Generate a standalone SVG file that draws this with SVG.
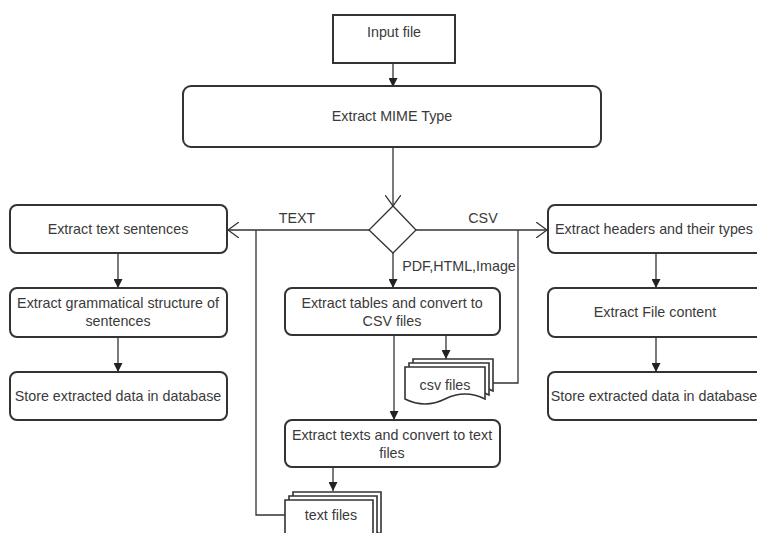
<svg xmlns="http://www.w3.org/2000/svg" width="757" height="533" viewBox="0 0 757 533">
<defs>
<style>
.box{fill:#fff;stroke:#333;stroke-width:2}
.doc{fill:#fff;stroke:#333;stroke-width:1.6}
.c{fill:none;stroke:#333;stroke-width:1.3}
text{font-family:"Liberation Sans",Arial,sans-serif;font-size:14.3px;fill:#3a3a3a;text-anchor:middle}
</style>
<marker id="fa" viewBox="0 0 10 10" refX="10" refY="5" markerWidth="9" markerHeight="9" markerUnits="userSpaceOnUse" orient="auto">
<path d="M0,0 L10,5 L0,10 z" fill="#222"/>
</marker>
<marker id="oa" viewBox="0 0 12 16" refX="11" refY="8" markerWidth="12" markerHeight="16" markerUnits="userSpaceOnUse" orient="auto">
<path d="M0,0 L11,8 L0,16" fill="none" stroke="#333" stroke-width="1.3"/>
</marker>
</defs>
<rect width="757" height="533" fill="#fff"/>

<g id="connectors">
<path class="c" d="M393,63 V87" marker-end="url(#fa)"/>
<path class="c" d="M393,147 V206" marker-end="url(#oa)"/>
<path class="c" d="M369,230 H228" marker-end="url(#oa)"/>
<path class="c" d="M416,230 H547" marker-end="url(#oa)"/>
<path class="c" d="M393,253 V288" marker-end="url(#fa)"/>
<path class="c" d="M256,230 V515 H285"/>
<path class="c" d="M518,230 V383 H488"/>
<path class="c" d="M446,335 V359" marker-end="url(#fa)"/>
<path class="c" d="M394,335 V420" marker-end="url(#fa)"/>
<path class="c" d="M333,467 V491" marker-end="url(#fa)"/>
<path class="c" d="M118,253 V288" marker-end="url(#fa)"/>
<path class="c" d="M118,337 V372" marker-end="url(#fa)"/>
<path class="c" d="M656,253 V288" marker-end="url(#fa)"/>
<path class="c" d="M656,337 V372" marker-end="url(#fa)"/>
<text x="297" y="223">TEXT</text>
<text x="483" y="223">CSV</text>
<text x="459" y="271">PDF,HTML,Image</text>
</g>

<g id="input">
<rect class="box" x="333" y="15" width="122" height="48"/>
<text x="394" y="37">Input file</text>
</g>

<g id="mime">
<rect class="box" x="183" y="86" width="418" height="61" rx="8"/>
<text x="392" y="121">Extract MIME Type</text>
</g>

<g id="decision">
<path class="c" d="M393,206 L416,230 L393,253 L369,230 Z" style="fill:#fff"/>
</g>

<g id="text-sentences">
<rect class="box" x="10" y="205" width="217" height="48" rx="7"/>
<text x="118" y="234">Extract text sentences</text>
</g>
<g id="grammar">
<rect class="box" x="10" y="288" width="217" height="49" rx="7"/>
<text x="118" y="308">Extract grammatical structure of</text>
<text x="118" y="326">sentences</text>
</g>
<g id="store-left">
<rect class="box" x="10" y="372" width="217" height="48" rx="7"/>
<text x="118" y="401">Store extracted data in database</text>
</g>

<g id="headers">
<rect class="box" x="548" y="205" width="220" height="48" rx="7"/>
<text x="654" y="234">Extract headers and their types</text>
</g>
<g id="file-content">
<rect class="box" x="548" y="288" width="220" height="49" rx="7"/>
<text x="655" y="317">Extract File content</text>
</g>
<g id="store-right">
<rect class="box" x="548" y="372" width="220" height="48" rx="7"/>
<text x="654" y="401">Store extracted data in database</text>
</g>

<g id="tables">
<rect class="box" x="285" y="288" width="215" height="47" rx="7"/>
<text x="392" y="308">Extract tables and convert to</text>
<text x="392" y="326">CSV files</text>
</g>

<g id="csv-files">
<path class="doc" d="M413,359 H493 V391 Q473,381 453,391 Q433,401 413,391 Z"/>
<path class="doc" d="M409,363 H489 V395 Q469,385 449,395 Q429,405 409,395 Z"/>
<path class="doc" d="M405,367 H485 V399 Q465,389 445,399 Q425,409 405,399 Z"/>
<text x="445" y="390">csv files</text>
</g>

<g id="texts">
<rect class="box" x="285" y="420" width="215" height="47" rx="7"/>
<text x="392" y="440">Extract texts and convert to text</text>
<text x="392" y="458">files</text>
</g>

<g id="text-files">
<path class="doc" d="M293,492 H381 V534 Q359,524 337,534 Q315,544 293,534 Z"/>
<path class="doc" d="M289,496 H377 V538 Q355,528 333,538 Q311,548 289,538 Z"/>
<path class="doc" d="M285,500 H373 V542 Q351,528 329,542 Q307,556 285,542 Z"/>
<text x="331" y="520">text files</text>
</g>
</svg>
